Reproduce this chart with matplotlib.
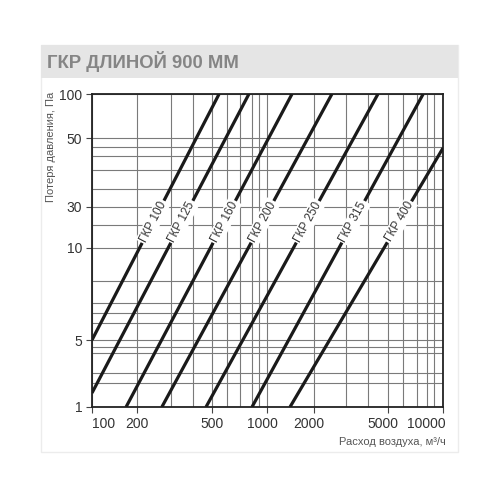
import math
import numpy as np
import matplotlib
matplotlib.use('Agg')
import matplotlib.pyplot as plt
from matplotlib.patches import Rectangle
from matplotlib.transforms import ScaledTranslation

plt.rcParams['font.family'] = ['Liberation Sans', 'DejaVu Sans']

# données
titre = "ГКР ДЛИНОЙ 900 ММ"
noms = ["ГКР 100", "ГКР 125", "ГКР 160", "ГКР 200", "ГКР 250", "ГКР 315", "ГКР 400"]
debit_debut = [100, 100, 169, 269, 466, 800, 1404]
perte_debut = [5, 1.5, 1, 1, 1, 1, 1]
debit_fin = [545, 773, 1446, 2510, 4470, 7600, 10000]
perte_fin = [100, 100, 100, 100, 100, 100, 45.5]
perte_etiquette = 21.5

x_ticks = [100, 200, 500, 1000, 2000, 5000, 10000]
x_grille = [300, 400, 600, 700, 800, 900, 3000, 4000, 6000, 7000, 8000, 9000]
y_ticks = [1, 5, 10, 30, 50, 100]
y_grille = [2, 3, 4, 4.5, 6, 7, 8, 9, 20, 34, 38, 42, 46]

# échelle déformée du dessin original (valeur -> fraction de l'axe)
x_ech_val = [100, 200, 300, 400, 500, 600, 700, 800, 900, 1000,
             2000, 3000, 4000, 5000, 6000, 7000, 8000, 9000, 10000]
x_ech_pos = [0, 45, 79, 101, 120, 135, 148, 160, 167, 175,
             222, 254, 276, 296, 311, 325, 335, 342, 351]
y_ech_val = [1, 2, 3, 4, 4.5, 5, 6, 7, 8, 9, 10, 20, 30, 34, 38, 42, 46, 50, 100]
y_ech_pos = [0, 24, 34, 54, 60, 67, 84, 94, 104, 126, 159, 182, 200, 218,
             237, 251, 260, 269, 313]

# décalage des étiquettes de l'axe x (en points), comme sur l'original
x_decalage = [0, 0, 0, -3, -3.5, -4, 2]


def faire_echelle(valeurs, positions):
    lv = np.log10(valeurs)
    pos = np.array(positions, dtype=float) / positions[-1]

    def avant(v):
        v = np.maximum(np.asarray(v, dtype=float), 1e-9)
        return np.interp(np.log10(v), lv, pos)

    def arriere(f):
        return 10 ** np.interp(np.asarray(f, dtype=float), pos, lv)

    return avant, arriere


fig = plt.figure(figsize=(5, 5), dpi=100)

# cadre et bandeau du titre
fig.patches.append(Rectangle((0.082, 0.096), 0.834, 0.814, transform=fig.transFigure,
                             facecolor='none', edgecolor='#ececec', lw=1, zorder=0))
fig.patches.append(Rectangle((0.082, 0.844), 0.834, 0.066, transform=fig.transFigure,
                             facecolor='#e5e5e5', edgecolor='none', zorder=1))
fig.text(0.094, 0.877, titre, fontsize=13.3, fontweight='bold', color='#858585',
         ha='left', va='center')

ax = fig.add_axes([0.184, 0.186, 0.702, 0.626])
ax.set_zorder(5)
ax.set_xscale('function', functions=faire_echelle(x_ech_val, x_ech_pos))
ax.set_yscale('function', functions=faire_echelle(y_ech_val, y_ech_pos))
ax.set_xlim(100, 10000)
ax.set_ylim(1, 100)

ax.set_xticks(x_ticks)
ax.set_xticklabels([str(v) for v in x_ticks])
ax.set_xticks(x_grille, minor=True)
ax.set_yticks(y_ticks)
ax.set_yticklabels([str(v) for v in y_ticks])
ax.set_yticks(y_grille, minor=True)
ax.grid(True, which='both', color='#7a7a7a', lw=0.8)
ax.set_axisbelow(True)
ax.tick_params(which='major', length=4, width=0.8, color='#444444',
               labelsize=10, labelcolor='#333333', pad=3)
ax.tick_params(which='minor', length=0)
etiq_x = ax.get_xticklabels()
etiq_x[0].set_horizontalalignment('left')
etiq_x[-1].set_horizontalalignment('right')
for etiq, d in zip(etiq_x, x_decalage):
    etiq.set_transform(etiq.get_transform() + ScaledTranslation(d / 72, 0, fig.dpi_scale_trans))
for s in ax.spines.values():
    s.set_color('#222222')
    s.set_linewidth(1.3)

for nom, x0, y0, x1, y1 in zip(noms, debit_debut, perte_debut, debit_fin, perte_fin):
    ax.plot([x0, x1], [y0, y1], color='#1a1a1a', lw=2.3, solid_capstyle='butt', zorder=3)
    p0, p1 = ax.transData.transform([[x0, y0], [x1, y1]])
    angle = math.degrees(math.atan2(p1[1] - p0[1], p1[0] - p0[0]))
    yd = ax.transData.transform([[x0, perte_etiquette]])[0][1]
    xd = p0[0] + (yd - p0[1]) * (p1[0] - p0[0]) / (p1[1] - p0[1])
    xe, ye = ax.transData.inverted().transform([[xd, yd]])[0]
    ax.text(xe, ye, nom, rotation=angle, rotation_mode='anchor', ha='center', va='center',
            fontsize=8.5, color='#333333', zorder=4,
            bbox=dict(facecolor='white', edgecolor='none', pad=1.2))

fig.text(0.102, 0.816, "Потеря давления, Па", rotation=90, ha='center', va='top',
         fontsize=8, color='#555555')
fig.text(0.892, 0.116, "Расход воздуха, м³/ч", ha='right', va='center',
         fontsize=8, color='#555555')

plt.savefig('out.png', dpi=100)
